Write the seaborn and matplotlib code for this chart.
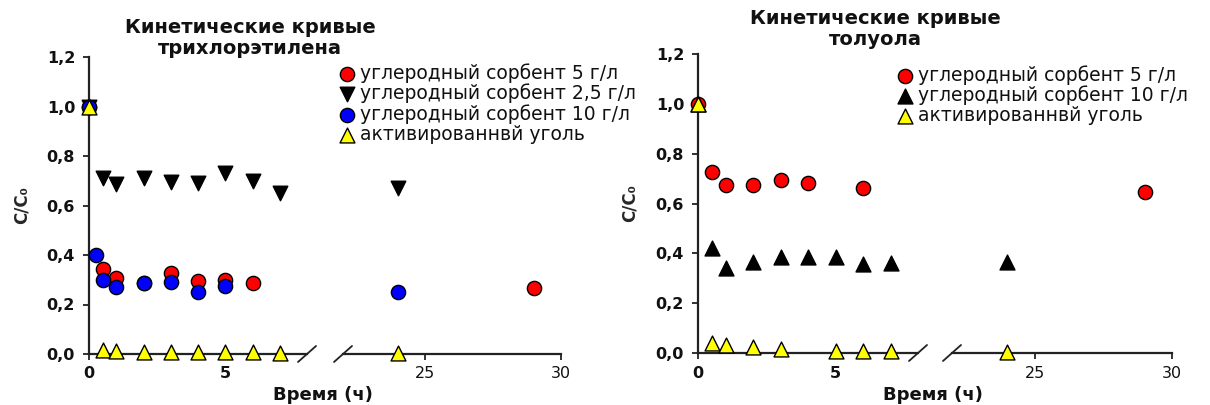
import numpy as np
import pandas as pd
import matplotlib
matplotlib.use("Agg")
import matplotlib.pyplot as plt
import seaborn as sns
from matplotlib.ticker import FuncFormatter

sns.set_theme(style="ticks")
plt.rcParams['font.family'] = ['DejaVu Sans']

# --- Trichloroethylene kinetics (time in hours, C/C0) ---
tce_t_5 = [0, 0.5, 1, 2, 3, 4, 5, 6, 29]
tce_c_5 = [1.0, 0.343, 0.308, 0.288, 0.326, 0.294, 0.299, 0.288, 0.268]
tce_t_25 = [0, 0.5, 1, 2, 3, 4, 5, 6, 7, 24]
tce_c_25 = [1.0, 0.71, 0.686, 0.712, 0.696, 0.691, 0.73, 0.699, 0.649, 0.669]
tce_t_10 = [0, 0.25, 0.5, 1, 2, 3, 4, 5, 24]
tce_c_10 = [1.0, 0.40, 0.30, 0.272, 0.285, 0.29, 0.252, 0.275, 0.252]
tce_t_ac = [0, 0.5, 1, 2, 3, 4, 5, 6, 7, 24]
tce_c_ac = [1.0, 0.015, 0.012, 0.010, 0.008, 0.007, 0.007, 0.007, 0.006, 0.005]

# --- Toluene kinetics ---
tol_t_5 = [0, 0.5, 1, 2, 3, 4, 6, 29]
tol_c_5 = [1.0, 0.727, 0.676, 0.675, 0.695, 0.684, 0.661, 0.647]
tol_t_10 = [0, 0.5, 1, 2, 3, 4, 5, 6, 7, 24]
tol_c_10 = [1.0, 0.42, 0.341, 0.364, 0.385, 0.385, 0.385, 0.357, 0.361, 0.364]
tol_t_ac = [0, 0.5, 1, 2, 3, 5, 6, 7, 24]
tol_c_ac = [1.0, 0.04, 0.031, 0.024, 0.017, 0.01, 0.01, 0.01, 0.006]

lbl_5 = "углеродный сорбент 5 г/л"
lbl_25 = "углеродный сорбент 2,5 г/л"
lbl_10 = "углеродный сорбент 10 г/л"
lbl_ac = "активированнвй уголь"

y_ticks = [0.0, 0.2, 0.4, 0.6, 0.8, 1.0, 1.2]
seg1_ticks = [0, 5]
seg2_ticks = [25, 30]
SEG1 = (0, 8)
SEG2 = (22, 30)

W, H = 1210, 405
fig = plt.figure(figsize=(W / 100, H / 100), dpi=100)


def px_axes(x0, x1, ytop, ybot):
    return fig.add_axes([x0 / W, 1 - ybot / H, (x1 - x0) / W, (ybot - ytop) / H])


AX_COLOR = "#222222"


def style_pair(axl, axr):
    comma = FuncFormatter(lambda v, p: f"{v:.1f}".replace(".", ","))
    for ax, seg, ticks in ((axl, SEG1, seg1_ticks), (axr, SEG2, seg2_ticks)):
        ax.set_xlim(*seg)
        ax.set_ylim(0, 1.2)
        ax.set_xticks(ticks)
        ax.set_facecolor("none")
        ax.spines["top"].set_visible(False)
        ax.spines["right"].set_visible(False)
        for s in ("left", "bottom"):
            ax.spines[s].set_color(AX_COLOR)
            ax.spines[s].set_linewidth(1.6)
        ax.tick_params(axis="both", direction="out", length=4, width=1.3,
                       color=AX_COLOR, labelsize=11.5, labelcolor="#111111")
        ax.set_xlabel("")
        ax.set_ylabel("")
    axl.set_yticks(y_ticks)
    axl.yaxis.set_major_formatter(comma)
    axl.tick_params(axis="y", pad=6)
    axl.tick_params(axis="x", pad=5)
    axr.tick_params(axis="x", pad=5)
    for t in axl.get_xticklabels() + axl.get_yticklabels():
        t.set_fontweight("bold")
    axr.spines["left"].set_visible(False)
    axr.tick_params(axis="y", left=False, labelleft=False)
    # break marks on the time axis
    kw = dict(color=AX_COLOR, lw=1.3, clip_on=False)
    dx1 = 9 / (axl.get_position().width * W)
    dy1 = 8 / (axl.get_position().height * H)
    axl.plot([1 - dx1, 1 + dx1], [-dy1, dy1], transform=axl.transAxes, **kw)
    dx2 = 9 / (axr.get_position().width * W)
    axr.plot([-dx2, dx2], [-dy1, dy1], transform=axr.transAxes, **kw)


def draw_series(axl, axr, series):
    handles = []
    for t, c, marker, color, size in series:
        df = pd.DataFrame({"t": t, "c": c})
        for ax, (lo, hi) in ((axl, SEG1), (axr, SEG2)):
            part = df[(df["t"] >= lo) & (df["t"] <= hi)]
            if part.empty:
                continue
            n_before = len(ax.collections)
            sns.scatterplot(data=part, x="t", y="c", ax=ax, marker=marker,
                            color=color, s=size, edgecolor="black",
                            linewidth=1.0, clip_on=False, legend=False,
                            zorder=3)
            if ax is axl:
                handles.append(ax.collections[n_before])
    return handles


# ---------- left panel: trichloroethylene ----------
a1 = px_axes(89, 307, 57, 354)
a2 = px_axes(343, 561, 57, 354)
h_left = draw_series(a1, a2, [
    (tce_t_5, tce_c_5, "o", "#ff0000", 105),
    (tce_t_25, tce_c_25, "v", "#000000", 110),
    (tce_t_10, tce_c_10, "o", "#0000ff", 105),
    (tce_t_ac, tce_c_ac, "^", "#ffff00", 115),
])
style_pair(a1, a2)
a1.set_ylabel("C/C₀", fontweight="bold", fontsize=12)
a1.yaxis.set_label_coords(-0.27, 0.5)

# ---------- right panel: toluene ----------
b1 = px_axes(698, 918, 54, 353)
b2 = px_axes(952, 1172, 54, 353)
h_right = draw_series(b1, b2, [
    (tol_t_5, tol_c_5, "o", "#ff0000", 105),
    (tol_t_10, tol_c_10, "^", "#000000", 115),
    (tol_t_ac, tol_c_ac, "^", "#ffff00", 115),
])
style_pair(b1, b2)
b1.set_ylabel("C/C₀", fontweight="bold", fontsize=12)
b1.yaxis.set_label_coords(-0.27, 0.5)

# titles and shared x labels
title_kw = dict(ha="center", va="top", fontweight="bold", fontsize=14,
                color="#111111", linespacing=1.12)
fig.text(250 / W, 1 - 18 / H, "Кинетические кривые\nтрихлорэтилена", **title_kw)
fig.text(875 / W, 1 - 9 / H, "Кинетические кривые\nтолуола", **title_kw)
xl_kw = dict(ha="center", va="center", fontweight="bold", fontsize=13,
             color="#111111")
fig.text(323 / W, 1 - 395 / H, "Время (ч)", **xl_kw)
fig.text(933 / W, 1 - 395 / H, "Время (ч)", **xl_kw)

leg_kw = dict(loc="upper left", frameon=False, fontsize=13.5, handlelength=0.95,
              handletextpad=0.25, borderpad=0, borderaxespad=0,
              labelspacing=0.05, scatterpoints=1, labelcolor="#111111")
fig.legend(h_left, [lbl_5, lbl_25, lbl_10, lbl_ac],
           bbox_to_anchor=(338 / W, 1 - 63 / H), **leg_kw)
fig.legend(h_right, [lbl_5, lbl_10, lbl_ac],
           bbox_to_anchor=(896 / W, 1 - 65 / H), **leg_kw)

fig.savefig("out.png", dpi=100)
